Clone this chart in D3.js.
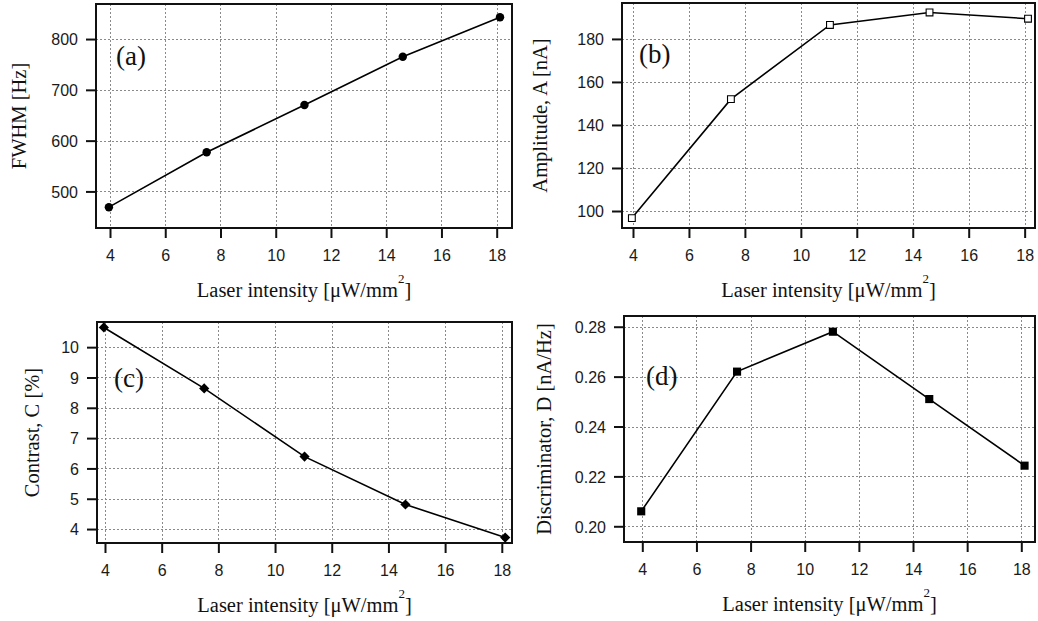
<!DOCTYPE html>
<html>
<head>
<meta charset="utf-8">
<script src="https://cdn.jsdelivr.net/npm/d3@7"></script>
<style>
  html, body { margin: 0; padding: 0; background: #fff; }
  svg { display: block; }
  .tick text { font-family: "Liberation Sans", Arial, sans-serif; font-size: 16px; fill: #1a1a1a; }
  .title { font-family: "Liberation Serif", "Times New Roman", serif; font-size: 20.5px; fill: #111; }
  .plabel { font-family: "Liberation Serif", "Times New Roman", serif; font-size: 27px; fill: #111; }
</style>
</head>
<body>
<svg id="chart" width="1038" height="621"></svg>
<script>
// Laser intensity in µW/mm² (same for all four panels)
const intensity = [3.96, 7.5, 11.04, 14.6, 18.12];

// Measured quantities
const fwhm = [469, 577, 670, 765, 843];              // Hz
const amplitude = [96.7, 152, 186.5, 192.3, 189.4];  // nA
const contrast = [10.65, 8.64, 6.39, 4.81, 3.72];    // %
const discriminator = [0.206, 0.262, 0.278, 0.251, 0.2243]; // nA/Hz

// Tick values
const xTicks = [4, 6, 8, 10, 12, 14, 16, 18];
const fwhmTicks = [500, 600, 700, 800];
const amplitudeTicks = [100, 120, 140, 160, 180];
const contrastTicks = [4, 5, 6, 7, 8, 9, 10];
const discriminatorTicks = [0.20, 0.22, 0.24, 0.26, 0.28];

const svg = d3.select("#chart");

const panels = [
  { label: "(a)", ytitle: "FWHM [Hz]", values: fwhm, yTicks: fwhmTicks, fmt: d3.format("d"),
    box: { l: 96, r: 512, t: 4, b: 228 }, xDom: [3.493, 18.554], yDom: [428, 869],
    marker: "circle", labelPos: [116, 65], ytX: 26 },
  { label: "(b)", ytitle: "Amplitude, A [nA]", values: amplitude, yTicks: amplitudeTicks, fmt: d3.format("d"),
    box: { l: 622, r: 1035, t: 3, b: 228 }, xDom: [3.607, 18.37], yDom: [92.1, 196.7],
    marker: "openSquare", labelPos: [639, 63], ytX: 547 },
  { label: "(c)", ytitle: "Contrast, C [%]", values: contrast, yTicks: contrastTicks, fmt: d3.format("d"),
    box: { l: 97, r: 512, t: 322, b: 543 }, xDom: [3.718, 18.36], yDom: [3.54, 10.83],
    marker: "diamond", labelPos: [114, 387], ytX: 39 },
  { label: "(d)", ytitle: "Discriminator, D [nA/Hz]", values: discriminator, yTicks: discriminatorTicks, fmt: d3.format(".2f"),
    box: { l: 624, r: 1035, t: 316, b: 542 }, xDom: [3.324, 18.506], yDom: [0.1937, 0.2843],
    marker: "square", labelPos: [646, 385], ytX: 551 }
];

panels.forEach(p => {
  const { l, r, t, b } = p.box;
  const x = d3.scaleLinear().domain(p.xDom).range([l, r]);
  const y = d3.scaleLinear().domain(p.yDom).range([b, t]);
  const g = svg.append("g");

  // dotted grid
  const grid = g.append("g").attr("stroke", "#8a8a8a").attr("stroke-width", 1)
    .attr("stroke-dasharray", "2,2").attr("fill", "none");
  grid.selectAll("line.vx").data(xTicks).join("line")
    .attr("x1", d => Math.round(x(d)) + 0.5).attr("x2", d => Math.round(x(d)) + 0.5)
    .attr("y1", t).attr("y2", b);
  grid.selectAll("line.hy").data(p.yTicks).join("line")
    .attr("y1", d => Math.round(y(d)) + 0.5).attr("y2", d => Math.round(y(d)) + 0.5)
    .attr("x1", l).attr("x2", r);

  // axes
  const xAxis = d3.axisBottom(x).tickValues(xTicks).tickSize(10).tickPadding(12).tickFormat(d3.format("d"));
  const gx = g.append("g").attr("transform", `translate(0,${b})`).call(xAxis);
  const yAxis = d3.axisLeft(y).tickValues(p.yTicks).tickSize(10).tickPadding(8).tickFormat(p.fmt);
  const gy = g.append("g").attr("transform", `translate(${l},0)`).call(yAxis);
  [gx, gy].forEach(a => {
    a.select(".domain").remove();
    a.selectAll(".tick line").attr("stroke", "#111").attr("stroke-width", 2);
  });
  gy.selectAll(".tick text").attr("dy", "0.36em");

  // frame
  g.append("rect").attr("x", l).attr("y", t).attr("width", r - l).attr("height", b - t)
    .attr("fill", "none").attr("stroke", "#111").attr("stroke-width", 2);

  // data line
  const pts = intensity.map((v, i) => [v, p.values[i]]);
  g.append("path").datum(pts)
    .attr("fill", "none").attr("stroke", "#000").attr("stroke-width", 1.6)
    .attr("d", d3.line().x(d => x(d[0])).y(d => y(d[1])));

  // markers
  const m = g.append("g");
  const sel = m.selectAll("path").data(pts).join("path");
  if (p.marker === "circle") {
    sel.attr("d", d3.symbol(d3.symbolCircle, 56)()).attr("fill", "#000");
  } else if (p.marker === "openSquare") {
    sel.attr("d", d3.symbol(d3.symbolSquare, 46)()).attr("fill", "#fff")
      .attr("stroke", "#000").attr("stroke-width", 1.1);
  } else if (p.marker === "diamond") {
    sel.attr("d", d3.symbol(d3.symbolSquare, 52)()).attr("fill", "#000");
  } else {
    sel.attr("d", d3.symbol(d3.symbolSquare, 66)()).attr("fill", "#000");
  }
  sel.attr("transform", d => `translate(${x(d[0])},${y(d[1])})` + (p.marker === "diamond" ? " rotate(45)" : ""));

  // panel label
  g.append("text").attr("class", "plabel").attr("x", p.labelPos[0]).attr("y", p.labelPos[1]).text(p.label);

  // x title with superscript
  const xt = g.append("text").attr("class", "title").attr("text-anchor", "middle")
    .attr("x", (l + r) / 2).attr("y", b + 69);
  xt.append("tspan").text("Laser intensity [\u03BCW/mm");
  xt.append("tspan").attr("dy", -14).attr("font-size", "13px").text("2");
  xt.append("tspan").attr("dy", 14).text("]");

  // y title
  g.append("text").attr("class", "title").attr("text-anchor", "middle")
    .attr("transform", `translate(${p.ytX},${(t + b) / 2}) rotate(-90)`)
    .text(p.ytitle);
});
</script>
</body>
</html>
